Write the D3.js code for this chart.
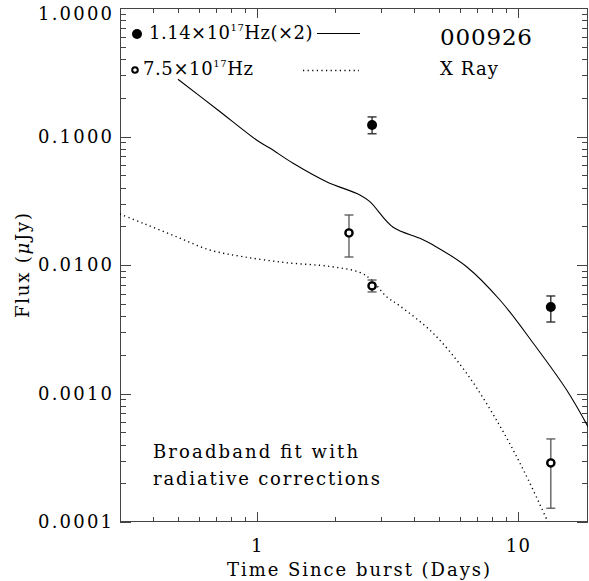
<!DOCTYPE html>
<html>
<head>
<meta charset="utf-8">
<script src="https://cdn.jsdelivr.net/npm/d3@7"></script>
<style>
  body { margin: 0; background: #fff; }
  svg text { font-family: "DejaVu Serif", "Liberation Serif", serif; fill: #000; }
</style>
</head>
<body>
<svg id="chart" width="589" height="581"></svg>
<script>
// model curve, 1.14e17 Hz (x2)
const hardFitTime = [0.5, 0.711, 1.0, 1.124, 1.381, 1.854, 2.488, 2.717, 3.337, 4.224, 4.75, 6.377, 8.556, 11.48, 15.41, 18.6]
const hardFitFlux = [0.2787, 0.1608, 0.0939, 0.0813, 0.0619, 0.0445, 0.0351, 0.0311, 0.01965, 0.01614, 0.0143, 0.0097, 0.00534, 0.00246, 0.001064, 0.000552]

// model curve, 7.5e17 Hz
const softFitTime = [0.3, 0.3677, 0.4939, 0.6625, 0.8886, 1.303, 1.909, 2.488, 2.758, 3.148, 3.54, 4.75, 6.377, 8.556, 10.66, 13.06]
const softFitFlux = [0.02493, 0.02111, 0.0166, 0.01308, 0.0116, 0.01042, 0.00975, 0.00875, 0.00764, 0.00567, 0.0048, 0.00294, 0.001436, 0.000558, 0.000241, 0.0001]

// observations
const hardTime = [2.77, 13.4]
const hardFlux = [0.123, 0.00471]
const hardLo = [0.105, 0.0036]
const hardHi = [0.142, 0.00574]

const softTime = [2.26, 2.77, 13.4]
const softFlux = [0.01775, 0.00687, 0.000288]
const softLo = [0.01154, 0.00617, 0.000128]
const softHi = [0.0245, 0.00764, 0.000443]

const yTickValues = [0.0001, 0.001, 0.01, 0.1, 1]
const xTickValues = [1, 10]

const svg = d3.select('#chart')
const plot = { left: 120, right: 588, top: 8, bottom: 522 }

const xScale = d3.scaleLog().domain([0.3, 18.6]).range([plot.left, plot.right])
const yScale = d3.scaleLog().domain([0.0001, 1]).range([plot.bottom, plot.top])

svg.append('clipPath').attr('id', 'clip')
    .append('rect')
    .attr('x', plot.left).attr('y', plot.top)
    .attr('width', plot.right - plot.left).attr('height', plot.bottom - plot.top)

// minor tick positions
const xMinor = []
for (let d = 0.1; d <= 10; d *= 10)
    for (let k = 2; k <= 9; k++) {
        const v = +(k * d).toPrecision(3)
        if (v > 0.3 && v < 18.6) xMinor.push(v)
    }
const yMinor = []
for (let d = 0.0001; d < 1; d *= 10)
    for (let k = 2; k <= 9; k++) yMinor.push(k * d)

const axisColor = '#444'
const axes = svg.append('g').attr('stroke', axisColor).attr('stroke-width', 1).attr('fill', 'none')

axes.append('rect')
    .attr('x', plot.left + 0.5).attr('y', plot.top + 0.5)
    .attr('width', plot.right - plot.left - 1).attr('height', plot.bottom - plot.top - 1)

const xt = (v, len) => {
    const x = Math.round(xScale(v)) + 0.5
    axes.append('line').attr('x1', x).attr('x2', x).attr('y1', plot.bottom).attr('y2', plot.bottom - len)
    axes.append('line').attr('x1', x).attr('x2', x).attr('y1', plot.top).attr('y2', plot.top + len)
}
xMinor.forEach(v => xt(v, 5))
xTickValues.forEach(v => xt(v, 10))

const yt = (v, len) => {
    const y = Math.round(yScale(v)) + 0.5
    axes.append('line').attr('y1', y).attr('y2', y).attr('x1', plot.left).attr('x2', plot.left + len)
    axes.append('line').attr('y1', y).attr('y2', y).attr('x1', plot.right).attr('x2', plot.right - len)
}
yMinor.forEach(v => yt(v, 6))
yTickValues.forEach(v => yt(v, 11))

// tick labels
const fmt = d3.format('.4f')
svg.append('g').selectAll('text').data(yTickValues).join('text')
    .attr('x', 112).attr('y', d => Math.max(yScale(d) + 6, 20))
    .attr('text-anchor', 'end')
    .attr('font-size', 18)
    .attr('textLength', 74)
    .attr('lengthAdjust', 'spacing')
    .text(d => fmt(d))

svg.append('g').selectAll('text').data(xTickValues).join('text')
    .attr('x', d => xScale(d) + 1).attr('y', 552)
    .attr('text-anchor', 'middle')
    .attr('font-size', 18)
    .attr('letter-spacing', 1.5)
    .text(d => d)

svg.append('text')
    .attr('x', 227).attr('y', 576)
    .attr('font-size', 18)
    .attr('textLength', 263)
    .attr('lengthAdjust', 'spacing')
    .text('Time Since burst (Days)')

const ylab = svg.append('text')
    .attr('transform', 'translate(29,318) rotate(-90)')
    .attr('font-size', 18)
    .attr('letter-spacing', 1.8)
ylab.append('tspan').text('Flux (')
ylab.append('tspan').attr('font-style', 'italic').text('\u03bc')
ylab.append('tspan').text('Jy)')

// model curves
const line = d3.line().x(d => xScale(d[0])).y(d => yScale(d[1])).curve(d3.curveCatmullRom.alpha(0.5))
const curves = svg.append('g').attr('clip-path', 'url(#clip)').attr('fill', 'none')
curves.append('path')
    .datum(hardFitTime.map((t, i) => [t, hardFitFlux[i]]))
    .attr('d', line).attr('stroke', '#000').attr('stroke-width', 1.1)
curves.append('path')
    .datum(softFitTime.map((t, i) => [t, softFitFlux[i]]))
    .attr('d', line).attr('stroke', '#000').attr('stroke-width', 1.4)
    .attr('stroke-dasharray', '1.2 3.4')

// error bars + points
const drawSeries = (time, flux, lo, hi, filled, barColor) => {
    const g = svg.append('g')
    time.forEach((t, i) => {
        const x = xScale(t)
        g.append('line').attr('x1', x).attr('x2', x)
            .attr('y1', yScale(lo[i])).attr('y2', yScale(hi[i]))
            .attr('stroke', barColor).attr('stroke-width', 1.3)
        ;[lo[i], hi[i]].forEach(v => {
            g.append('line').attr('x1', x - 4.5).attr('x2', x + 4.5)
                .attr('y1', yScale(v)).attr('y2', yScale(v))
                .attr('stroke', barColor).attr('stroke-width', 1.3)
        })
        if (filled)
            g.append('circle').attr('cx', x).attr('cy', yScale(flux[i])).attr('r', 5).attr('fill', '#000')
        else
            g.append('circle').attr('cx', x).attr('cy', yScale(flux[i])).attr('r', 3.6)
                .attr('fill', '#fff').attr('stroke', '#000').attr('stroke-width', 2.4)
    })
}
drawSeries(hardTime, hardFlux, hardLo, hardHi, true, '#222')
drawSeries(softTime, softFlux, softLo, softHi, false, '#555')

// legend
const legend = svg.append('g')
legend.append('circle').attr('cx', 137).attr('cy', 34).attr('r', 5).attr('fill', '#000')
legend.append('circle').attr('cx', 135).attr('cy', 70).attr('r', 2.8)
    .attr('fill', '#fff').attr('stroke', '#000').attr('stroke-width', 2)
const l1 = legend.append('text').attr('x', 149).attr('y', 39).attr('font-size', 18).attr('letter-spacing', 0.5)
l1.append('tspan').text('1.14\u00d710')
l1.append('tspan').attr('font-size', 10).attr('dy', -8).text('17')
l1.append('tspan').attr('dy', 8).text('Hz(\u00d72)')
const l2 = legend.append('text').attr('x', 143).attr('y', 75).attr('font-size', 18).attr('letter-spacing', 0.6)
l2.append('tspan').text('7.5\u00d710')
l2.append('tspan').attr('font-size', 10).attr('dy', -8).text('17')
l2.append('tspan').attr('dy', 8).text('Hz')
legend.append('line').attr('x1', 317).attr('x2', 360).attr('y1', 33.5).attr('y2', 33.5)
    .attr('stroke', '#000').attr('stroke-width', 1.1)
legend.append('line').attr('x1', 303).attr('x2', 359).attr('y1', 70.5).attr('y2', 70.5)
    .attr('stroke', '#000').attr('stroke-width', 1.4).attr('stroke-dasharray', '1.2 3.4')

svg.append('text').attr('x', 440).attr('y', 45).attr('font-size', 23)
    .attr('textLength', 92).attr('lengthAdjust', 'spacing').text('000926')
svg.append('text').attr('x', 440).attr('y', 75).attr('font-size', 18)
    .attr('textLength', 58).attr('lengthAdjust', 'spacing').text('X Ray')

svg.append('text').attr('x', 153).attr('y', 458).attr('font-size', 18)
    .attr('textLength', 205).attr('lengthAdjust', 'spacing').text('Broadband fit with')
svg.append('text').attr('x', 153).attr('y', 485).attr('font-size', 18)
    .attr('textLength', 227).attr('lengthAdjust', 'spacing').text('radiative corrections')
</script>
</body>
</html>
